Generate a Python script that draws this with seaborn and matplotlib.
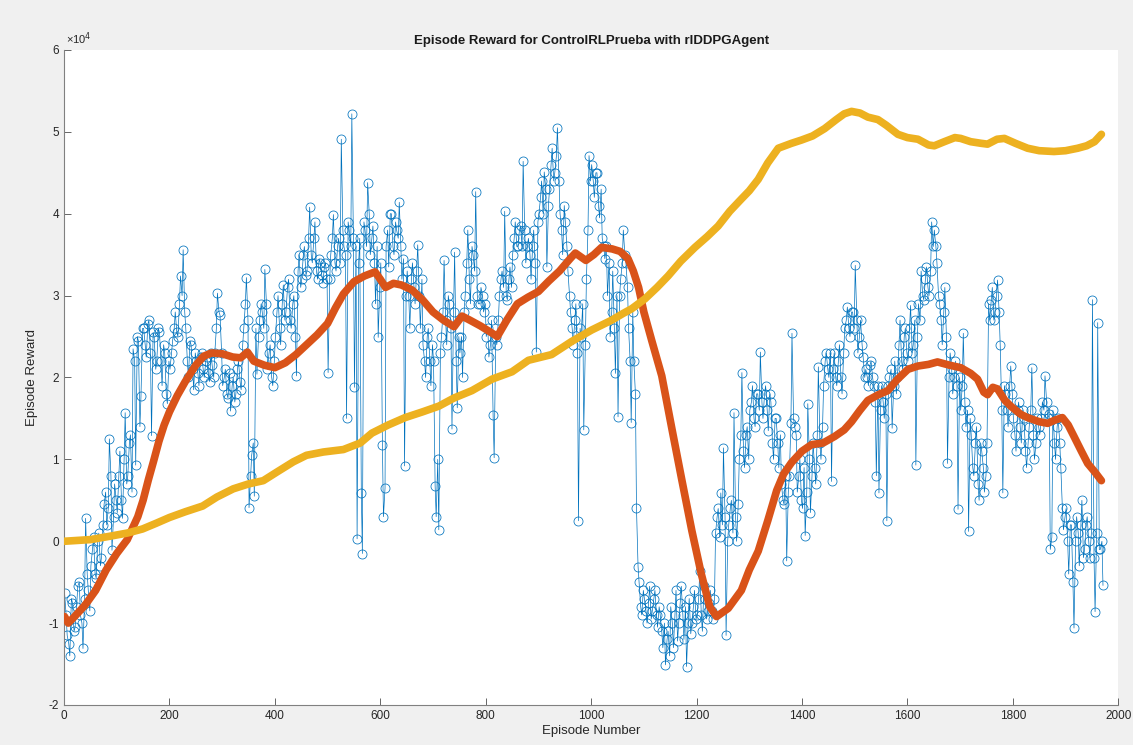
import numpy as np
import pandas as pd
import matplotlib
matplotlib.use("Agg")
import matplotlib.pyplot as mp
import seaborn as sns

episodes_a = np.arange(1, 1972, 5)
reward_a = [
    -0.63, -1.15, -1.40, -0.75, -1.05, -0.55, -0.90, -1.31, 0.28, -0.60,
    -0.30, 0.05, -0.45, 0.10, -0.20, 0.45, 0.20, 1.25, -0.11, 0.70,
    0.35, 1.10, 0.28, 1.57, 0.80, 1.30, 2.35, 0.93, 2.45, 1.77,
    2.60, 2.25, 2.70, 1.29, 2.50, 2.20, 2.55, 1.90, 2.30, 1.68,
    2.10, 2.45, 2.80, 2.50, 3.24, 3.56, 2.60, 2.00, 2.40, 1.85,
    2.20, 1.90, 2.30, 2.00, 2.25, 1.95, 2.15, 2.30, 3.03, 2.76,
    1.90, 2.10, 1.75, 1.59, 2.00, 1.80, 2.20, 1.85, 2.60, 3.22,
    0.41, 1.05, 0.55, 2.04, 2.70, 2.80, 3.32, 2.10, 2.40, 1.90,
    2.50, 3.00, 2.40, 3.13, 2.80, 3.20, 2.60, 3.00, 2.02, 3.50,
    3.20, 3.60, 3.30, 4.08, 3.40, 3.90, 3.20, 3.40, 3.15, 3.40,
    2.06, 3.50, 3.99, 3.30, 3.70, 4.91, 3.60, 1.50, 3.80, 5.22,
    1.88, 0.03, 3.70, -0.15, 3.80, 4.38, 3.50, 3.85, 2.90, 2.49,
    3.40, 0.30, 3.60, 3.35, 4.00, 3.50, 3.80, 4.14, 3.20, 0.92,
    3.30, 2.60, 3.40, 2.90, 3.62, 2.60, 2.40, 2.00, 2.60, 1.90,
    2.20, 0.30, 0.14, 2.50, 3.43, 2.40, 2.90, 1.37, 3.53, 1.63,
    2.30, 2.00, 3.00, 3.80, 2.90, 3.50, 4.27, 2.90, 3.10, 2.80,
    2.50, 2.25, 2.70, 1.02, 2.40, 3.00, 3.30, 4.03, 2.95, 3.35,
    3.50, 3.90, 3.60, 3.85, 4.64, 3.40, 3.70, 3.20, 3.80, 2.31,
    4.00, 4.40, 4.51, 3.35, 4.30, 4.80, 4.50, 5.05, 4.00, 3.50,
    3.90, 3.30, 2.80, 2.40, 2.90, 0.25, 2.50, 1.36, 3.20, 4.71,
    4.60, 4.20, 4.50, 3.95, 3.70, 3.45, 3.00, 2.50, 3.30, 2.05,
    1.52, 3.20, 3.80, 3.40, 2.60, 1.45, 2.20, 0.41, -0.50, -0.90,
    -0.70, -1.00, -0.55, -0.85, -0.60, -1.05, -0.90, -1.30, -1.51, -1.10,
    -0.80, -1.30, -0.60, -1.00, -0.55, -1.20, -1.53, -0.70, -1.00, -0.60,
    -0.90, -0.36, -1.10, -0.70, -0.85, -0.60, -0.95, 0.10, 0.40, 0.59,
    1.14, -1.15, 0.20, 0.50, 1.57, 0.00, 1.00, 2.06, 0.90, 1.40,
    1.60, 1.90, 1.40, 1.80, 2.31, 1.50, 1.90, 1.35, 1.70, 1.00,
    1.50, 0.90, 0.70, 0.45, -0.24, 0.80, 2.54, 1.40, 0.60, 1.00,
    0.40, 0.07, 1.68, 0.35, 1.20, 0.70, 2.13, 1.00, 1.90, 2.30,
    2.00, 0.73, 2.30, 1.90, 2.40, 1.80, 2.60, 2.86, 2.50, 2.80,
    3.37, 2.30, 2.70, 2.25, 2.10, 1.90, 2.20, 1.90, 0.80, 0.59,
    1.90, 1.50, 0.25, 2.00, 1.38, 2.20, 2.00, 2.70, 2.10, 2.60,
    2.20, 2.88, 2.40, 0.93, 2.90, 3.30, 2.95, 3.35, 3.00, 3.90,
    3.80, 3.40, 2.90, 2.40, 3.10, 0.95, 2.30, 1.80, 2.20, 0.39,
    1.60, 2.54, 1.40, 0.12, 1.30, 0.80, 1.40, 0.50, 1.10, 0.60,
    1.20, 2.70, 3.10, 2.80, 3.19, 2.40, 0.59, 1.80, 1.40, 2.14,
    1.50, 1.10, 1.70, 1.20, 1.50, 0.90, 1.40, 2.12, 1.00, 1.50,
    1.30, 1.70, 2.02, 1.50, -0.10, 1.60, 1.00, 1.50, 0.90, 0.14,
    0.40, -0.40, 0.20, -1.06, 0.30, -0.30, 0.50, -0.10, 0.30, -0.20,
    2.95, -0.86, 2.67, -0.10, -0.54,
]

# ... and episodes 4, 9, 14, ...
episodes_b = np.arange(4, 1970, 5)
reward_b = [
    -0.90, -1.25, -0.70, -1.10, -0.80, -0.50, -1.00, -0.70, -0.40, -0.85,
    -0.10, -0.40, 0.00, -0.30, 0.20, 0.60, 0.40, 0.80, 0.30, 0.50,
    0.80, 0.50, 1.00, 0.70, 1.20, 0.60, 2.20, 2.50, 1.40, 2.60,
    2.40, 2.65, 2.30, 2.55, 2.10, 2.60, 2.20, 2.40, 1.80, 2.20,
    2.30, 2.60, 2.55, 2.90, 3.00, 2.80, 2.20, 2.45, 2.10, 2.30,
    2.05, 2.25, 2.10, 2.20, 2.05, 2.30, 2.00, 2.60, 2.80, 2.30,
    2.00, 1.80, 2.05, 1.90, 1.70, 2.10, 1.95, 2.40, 2.90, 2.70,
    0.80, 1.20, 2.60, 2.50, 2.90, 2.60, 2.90, 2.30, 2.00, 2.20,
    2.80, 2.60, 2.90, 2.70, 3.10, 2.70, 2.90, 2.50, 3.30, 3.10,
    3.50, 3.25, 3.70, 3.50, 3.70, 3.30, 3.45, 3.25, 3.35, 3.20,
    3.20, 3.70, 3.40, 3.60, 3.40, 3.80, 3.50, 3.90, 3.60, 3.70,
    3.60, 3.40, 0.59, 3.90, 3.60, 4.00, 3.70, 3.40, 3.60, 3.10,
    1.18, 0.65, 3.80, 4.00, 3.60, 3.90, 3.70, 3.60, 3.45, 3.00,
    3.00, 3.20, 3.10, 3.30, 3.00, 3.20, 2.20, 2.50, 2.20, 2.40,
    0.68, 1.00, 2.30, 2.80, 2.70, 3.00, 2.60, 2.80, 2.20, 2.50,
    2.50, 2.80, 3.40, 3.20, 3.60, 3.30, 3.00, 2.90, 3.00, 2.90,
    2.60, 2.40, 1.54, 2.50, 2.70, 3.20, 3.10, 3.00, 3.20, 3.10,
    3.70, 3.60, 3.80, 3.60, 3.80, 3.60, 3.50, 3.60, 3.40, 3.90,
    4.20, 4.00, 4.30, 4.10, 4.60, 4.40, 4.70, 4.40, 3.80, 4.10,
    3.60, 3.00, 2.60, 2.70, 2.30, 2.60, 2.90, 2.40, 3.80, 4.40,
    4.40, 4.50, 4.10, 4.30, 3.60, 3.60, 3.40, 2.80, 2.60, 3.00,
    3.00, 3.40, 3.50, 3.10, 2.20, 2.80, 1.80, -0.31, -0.80, -0.60,
    -0.85, -0.75, -0.95, -0.70, -0.90, -0.80, -1.10, -1.00, -1.20, -1.40,
    -1.00, -0.90, -1.22, -0.75, -0.90, -0.80, -1.00, -1.13, -0.80, -0.95,
    -0.70, -0.90, -0.55, -0.95, -0.75, -0.85, -0.70, 0.30, 0.05, 0.20,
    0.30, 0.00, 0.40, 0.10, 0.30, 0.45, 1.30, 1.10, 1.30, 1.00,
    1.70, 1.50, 1.80, 1.60, 1.70, 1.80, 1.60, 1.80, 1.20, 1.50,
    1.20, 1.30, 0.50, 0.80, 0.60, 1.45, 1.50, 1.30, 0.80, 0.50,
    0.90, 0.60, 1.00, 0.80, 0.90, 1.30, 1.20, 1.40, 2.20, 2.10,
    2.30, 2.10, 2.00, 2.20, 2.00, 2.30, 2.70, 2.60, 2.80, 2.60,
    2.70, 2.50, 2.40, 2.00, 2.00, 2.15, 2.00, 1.70, 1.90, 1.60,
    1.70, 1.80, 1.90, 2.10, 1.90, 1.80, 2.40, 2.20, 2.50, 2.30,
    2.60, 2.30, 2.70, 2.50, 2.70, 3.00, 3.20, 3.10, 3.30, 3.60,
    3.60, 3.00, 2.70, 2.80, 2.50, 2.00, 2.10, 2.00, 1.90, 2.00,
    1.90, 1.70, 1.60, 1.50, 0.90, 1.20, 0.70, 1.20, 0.90, 0.80,
    2.90, 2.95, 2.70, 3.00, 2.80, 1.60, 1.90, 1.60, 1.90, 1.80,
    1.30, 1.60, 1.40, 1.60, 1.10, 1.20, 1.60, 1.30, 1.20, 1.40,
    1.50, 1.60, 1.70, 1.55, 0.05, 1.20, 1.40, 1.20, 0.40, 0.30,
    0.00, 0.20, -0.50, 0.00, 0.10, 0.20, -0.20, 0.20, 0.00, 0.10,
    -0.20, 0.10, -0.10, 0.00,
]

# average reward
avg_ep = [1, 8, 20, 40, 60, 80, 100, 120, 140, 150, 160, 170, 180, 190, 200,
          215, 230, 250, 265, 280, 300, 320, 335, 348, 360, 380, 400, 420, 440,
          460, 480, 500, 515, 530, 550, 570, 590, 600, 610, 625, 640, 660, 680,
          700, 720, 740, 755, 770, 790, 810, 822, 840, 860, 880, 900, 920, 940,
          960, 970, 990, 1005, 1020, 1040, 1055, 1070, 1080, 1090, 1100, 1115,
          1134, 1153, 1172, 1191, 1209, 1225, 1238, 1260, 1285, 1300, 1317,
          1335, 1352, 1365, 1380, 1400, 1418, 1440, 1462, 1480, 1494, 1510,
          1525, 1545, 1563, 1580, 1601, 1620, 1640, 1657, 1680, 1701, 1720,
          1733, 1745, 1752, 1762, 1771, 1785, 1796, 1815, 1828, 1850, 1866,
          1880, 1894, 1905, 1916, 1930, 1942, 1955, 1968]
avg_reward = [-0.92, -1.00, -0.92, -0.78, -0.60, -0.35, -0.15, 0.02, 0.30, 0.50,
              0.75, 0.98, 1.22, 1.42, 1.58, 1.78, 1.95, 2.15, 2.26, 2.30, 2.29,
              2.25, 2.24, 2.31, 2.20, 2.15, 2.12, 2.18, 2.28, 2.40, 2.52, 2.66,
              2.85, 3.02, 3.17, 3.24, 3.29, 3.20, 3.10, 3.15, 3.13, 3.07, 2.95,
              2.80, 2.70, 2.62, 2.75, 2.70, 2.63, 2.55, 2.50, 2.70, 2.90, 2.98,
              3.05, 3.18, 3.30, 3.45, 3.52, 3.43, 3.50, 3.59, 3.57, 3.54, 3.45,
              3.30, 3.10, 2.80, 2.45, 2.02, 1.38, 0.75, 0.13, -0.40, -0.80,
              -0.92, -0.82, -0.60, -0.35, -0.12, 0.25, 0.62, 0.82, 0.96, 1.10,
              1.18, 1.20, 1.28, 1.36, 1.46, 1.60, 1.72, 1.79, 1.84, 1.97, 2.10,
              2.14, 2.16, 2.19, 2.15, 2.12, 2.05, 1.98, 1.82, 1.79, 1.88, 1.86,
              1.72, 1.65, 1.55, 1.51, 1.46, 1.44, 1.48, 1.51, 1.42, 1.28, 1.10,
              0.95, 0.85, 0.74]

# episode Q0
q0_ep = [1, 50, 86, 120, 149, 175, 200, 230, 263, 290, 321, 350, 378, 405, 435,
         460, 492, 530, 562, 584, 615, 647, 680, 711, 740, 774, 812, 850, 881,
         925, 963, 1001, 1039, 1060, 1077, 1102, 1125, 1146, 1170, 1197, 1220,
         1241, 1263, 1285, 1300, 1317, 1335, 1355, 1380, 1399, 1420, 1443, 1465,
         1480, 1494, 1510, 1525, 1544, 1560, 1582, 1600, 1620, 1640, 1651, 1670,
         1690, 1701, 1720, 1740, 1752, 1770, 1784, 1805, 1828, 1850, 1878, 1900,
         1923, 1940, 1955, 1968]
q0 = [0.00, 0.02, 0.06, 0.10, 0.15, 0.22, 0.29, 0.36, 0.43, 0.54, 0.64, 0.70,
      0.74, 0.85, 0.97, 1.05, 1.09, 1.12, 1.20, 1.32, 1.42, 1.51, 1.58, 1.65,
      1.75, 1.84, 1.98, 2.07, 2.21, 2.28, 2.44, 2.58, 2.70, 2.78, 2.84, 2.96,
      3.10, 3.24, 3.42, 3.59, 3.72, 3.85, 4.03, 4.18, 4.28, 4.42, 4.62, 4.80,
      4.86, 4.90, 4.95, 5.04, 5.15, 5.22, 5.25, 5.23, 5.18, 5.15, 5.08, 4.97,
      4.93, 4.91, 4.84, 4.83, 4.88, 4.93, 4.92, 4.88, 4.86, 4.85, 4.91, 4.92,
      4.86, 4.80, 4.77, 4.76, 4.77, 4.80, 4.83, 4.88, 4.97]

rewards = pd.DataFrame({'episode': np.concatenate([episodes_a, episodes_b]),
                        'reward': reward_a + reward_b})
rewards = rewards.sort_values('episode')

sns.set_theme(style="white")
mp.rcParams['font.family'] = ['Liberation Sans', 'DejaVu Sans']
mp.rcParams['axes.unicode_minus'] = False

fig = mp.figure(figsize=(11.33, 7.45), dpi=100, facecolor='#f0f0f0')
ax = fig.add_axes([0.0565, 0.0537, 0.9305, 0.8792])
ax.set_facecolor('white')

sns.lineplot(data=rewards, x='episode', y='reward', ax=ax, color='#0072BD',
             linewidth=0.5, marker='o', markersize=6.5, markerfacecolor='none',
             markeredgecolor='#0072BD', markeredgewidth=0.55, estimator=None,
             sort=False, zorder=2)
sns.lineplot(x=avg_ep, y=avg_reward, ax=ax, color='#D95319', linewidth=5.5,
             estimator=None, zorder=3)
sns.lineplot(x=q0_ep, y=q0, ax=ax, color='#EDB120', linewidth=5.5,
             estimator=None, zorder=4)

ax.set_xlim(0, 2000)
ax.set_ylim(-2, 6)
ax.set_xticks(range(0, 2001, 200))
ax.set_yticks(range(-2, 7))
ax.tick_params(direction='in', length=5, width=0.6, colors='#4d4d4d',
               labelsize=8.5, labelcolor='#262626', left=True, bottom=True)
for s in ['top', 'right']:
    ax.spines[s].set_visible(False)
for s in ['left', 'bottom']:
    ax.spines[s].set_color('#808080')
    ax.spines[s].set_linewidth(0.8)

ax.set_xlabel('Episode Number', fontsize=9.5, color='#262626', labelpad=2)
ax.set_ylabel('Episode Reward', fontsize=9.5, color='#262626', labelpad=8)
ax.set_title('Episode Reward for ControlRLPrueba with rlDDPGAgent',
             fontsize=9.5, fontweight='bold', color='#1a1a1a', pad=4)
ax.text(0.002, 1.004, '×10$^4$', transform=ax.transAxes, fontsize=8,
        color='#262626', va='bottom', ha='left')

mp.savefig('out.png', dpi=100, facecolor=fig.get_facecolor())
